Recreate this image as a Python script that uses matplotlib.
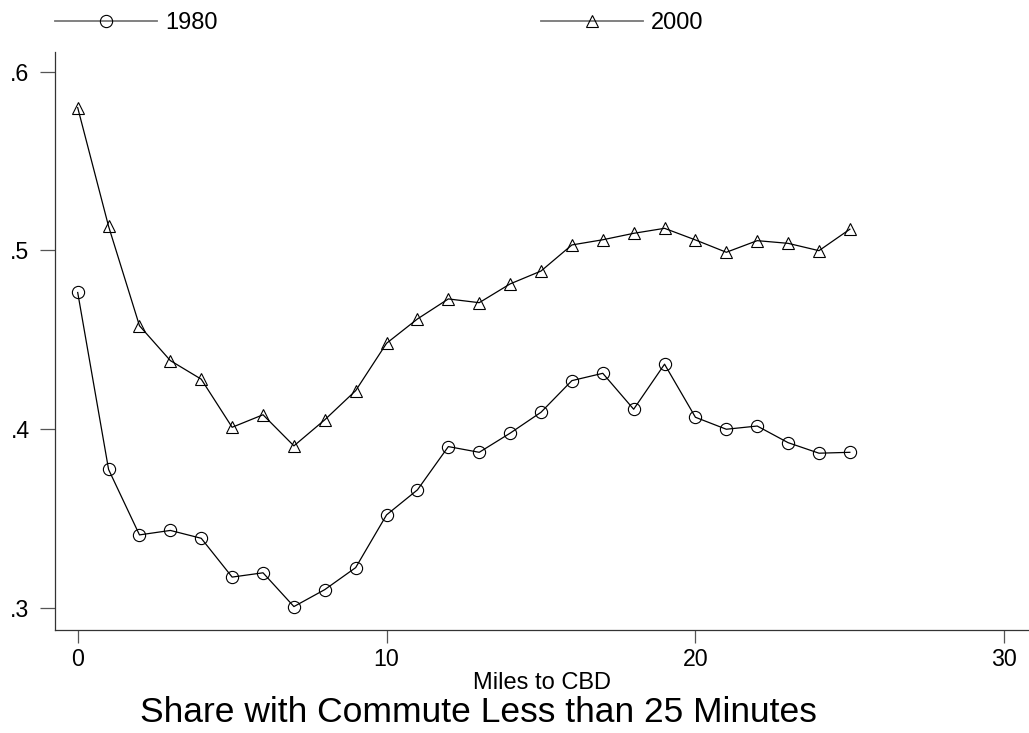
import numpy as np
import matplotlib
matplotlib.use('Agg')
import matplotlib.pyplot as plt
from matplotlib.lines import Line2D

plt.rcParams['font.family'] = ['Liberation Sans', 'DejaVu Sans']

# data
miles = list(range(0, 26))
share_1980 = [0.4765, 0.3775, 0.3409, 0.3434, 0.3390, 0.3173, 0.3197, 0.3008, 0.3103, 0.3226,
              0.3521, 0.3661, 0.3903, 0.3871, 0.3978, 0.4095, 0.4272, 0.4313, 0.4112, 0.4364,
              0.4067, 0.4000, 0.4018, 0.3925, 0.3866, 0.3871]
share_2000 = [0.5799, 0.5135, 0.4579, 0.4384, 0.4280, 0.4011, 0.4081, 0.3907, 0.4053, 0.4216,
              0.4481, 0.4617, 0.4729, 0.4708, 0.4813, 0.4885, 0.5031, 0.5060, 0.5096, 0.5124,
              0.5059, 0.4990, 0.5055, 0.5040, 0.4999, 0.5119]
series_names = ['1980', '2000']
x_ticks = [0, 10, 20, 30]
y_ticks = [0.3, 0.4, 0.5, 0.6]
y_ticklabels = ['.3', '.4', '.5', '.6']

W, H = 1029, 733
fig = plt.figure(figsize=(W / 100, H / 100), dpi=100)
ax = fig.add_axes([55 / W, (H - 630) / H, (1029 - 55) / W, (630 - 51.7) / H])

ax.plot(miles, share_1980, color='black', lw=0.9, marker='o', ms=8.8,
        mfc='none', mec='black', mew=0.8)
ax.plot(miles, share_2000, color='black', lw=0.9, marker='^', ms=9.2,
        mfc='none', mec='black', mew=0.8)

ax.set_xlim(-0.735, 30.8)
ax.set_ylim(0.2877, 0.6112)
ax.set_xticks(x_ticks)
ax.set_yticks(y_ticks)
ax.set_yticklabels(y_ticklabels)

for s in ['top', 'right']:
    ax.spines[s].set_visible(False)
for s in ['left', 'bottom']:
    ax.spines[s].set_color('#333333')
    ax.spines[s].set_linewidth(0.9)

ax.tick_params(axis='y', length=10.8, width=0.9, color='#555555', pad=7.5, labelsize=16.7)
ax.tick_params(axis='x', length=9.4, width=0.9, color='#555555', pad=3.5, labelsize=16.7)

ax.set_xlabel('Miles to CBD', fontsize=17)
ax.xaxis.label.set_va('baseline')
ax.xaxis.set_label_coords(0.5, (630 - 689) / (630 - 51.7))

fig.text(478 / W, 1 - 722 / H, 'Share with Commute Less than 25 Minutes',
         fontsize=25.5, ha='center', va='baseline')

handles = [
    Line2D([], [], color='#777777', lw=1.3, marker='o', ms=8.8, mfc='none', mec='black', mew=0.8),
    Line2D([], [], color='#777777', lw=1.3, marker='^', ms=9.2, mfc='none', mec='black', mew=0.8),
]
fig.legend(handles, series_names, loc='center left', bbox_to_anchor=(55 / W, 1 - 23 / H),
           ncol=2, frameon=False, fontsize=17, handlelength=4.32, handletextpad=0.34,
           columnspacing=13.7, borderpad=0, borderaxespad=0, numpoints=1)

fig.savefig('out.png', dpi=100)
